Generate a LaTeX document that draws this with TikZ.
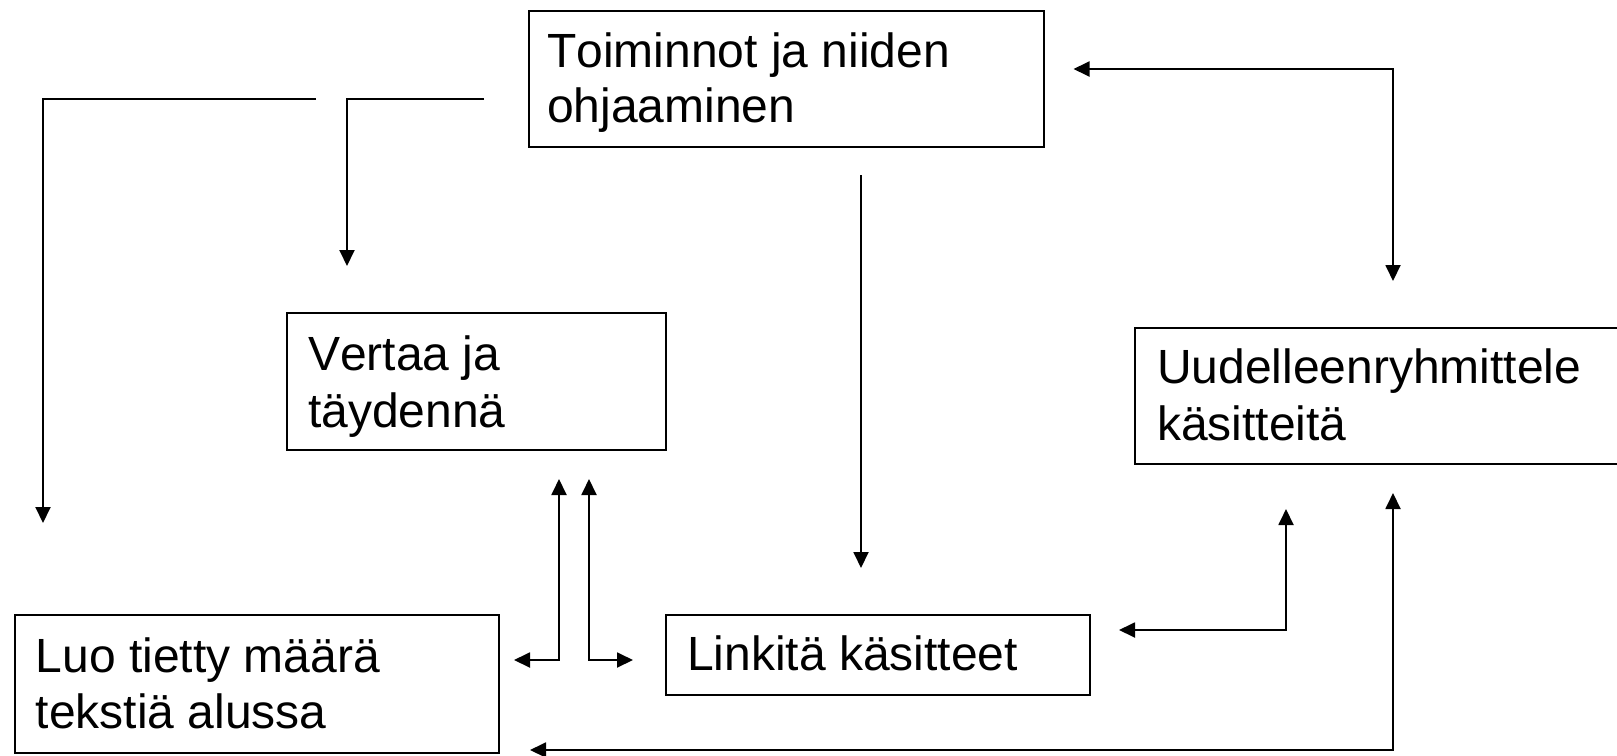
\documentclass[tikz,border=0pt]{standalone}
\usepackage{fontspec}
\setmainfont{Liberation Sans}[Kerning=Off]
\usetikzlibrary{arrows.meta}
\begin{document}
\begin{tikzpicture}[x=1pt,y=-1pt,
  box/.style={draw, line width=2pt, rectangle, anchor=north west, inner sep=0pt},
  txt/.style={anchor=base west, inner sep=0pt, font=\fontsize{48}{56}\selectfont},
  tip/.tip={Triangle[length=16pt,width=15pt]},
  conn/.style={line width=1.9pt, -tip},
  conn2/.style={line width=1.9pt, tip-tip}]
\useasboundingbox (0,0) rectangle (1617,755);
% boxes
\node[box, minimum width=515pt, minimum height=136.5pt] (top) at (528,9.5) {};
\node[box, minimum width=379pt, minimum height=137.5pt] (vertaa) at (286,311.5) {};
\node[box, minimum width=500pt, minimum height=136.5pt] (uud) at (1134,326.5) {};
\node[box, minimum width=484.5pt, minimum height=137.5pt] (luo) at (13.5,614) {};
\node[box, minimum width=424pt, minimum height=80pt] (link) at (665,614) {};
% texts
\node[txt] (top1) at (547,67) {Toiminnot ja niiden};
\node[txt] (top2) at (547,122) {ohjaaminen};
\node[txt] (ver1) at (308,370) {Vertaa ja};
\node[txt] (ver2) at (308,427) {täydennä};
\node[txt] (uud1) at (1157,383) {Uudelleenryhmittele};
\node[txt] (uud2) at (1157,440) {käsitteitä};
\node[txt] (luo1) at (35.5,672) {Luo tietty määrä};
\node[txt] (luo2) at (35.5,728) {tekstiä alussa};
\node[txt] (lin1) at (687,670) {Linkitä käsitteet};
% free ends
\coordinate (c1a) at (484,99);   \coordinate (c1b) at (347,266);
\coordinate (c2a) at (316,99);   \coordinate (c2b) at (43,523);
\coordinate (c3a) at (1073.5,69); \coordinate (c3b) at (1393,281);
\coordinate (c4a) at (861,175);  \coordinate (c4b) at (861,568);
\coordinate (c5a) at (514,660);  \coordinate (c5b) at (559,479);
\coordinate (c6a) at (633,660);  \coordinate (c6b) at (589,479);
\coordinate (c7a) at (1119,630); \coordinate (c7b) at (1286,509);
\coordinate (c8a) at (530,750);  \coordinate (c8b) at (1393,493);
% connectors
\draw[conn] (c1a) -| (c1b);
\draw[conn] (c2a) -| (c2b);
\draw[conn2] (c3a) -| (c3b);
\draw[conn] (c4a) -- (c4b);
\draw[conn2] (c5a) -| (c5b);
\draw[conn2] (c6a) -| (c6b);
\draw[conn2] (c7a) -| (c7b);
\draw[conn2] (c8a) -| (c8b);
\end{tikzpicture}
\end{document}
